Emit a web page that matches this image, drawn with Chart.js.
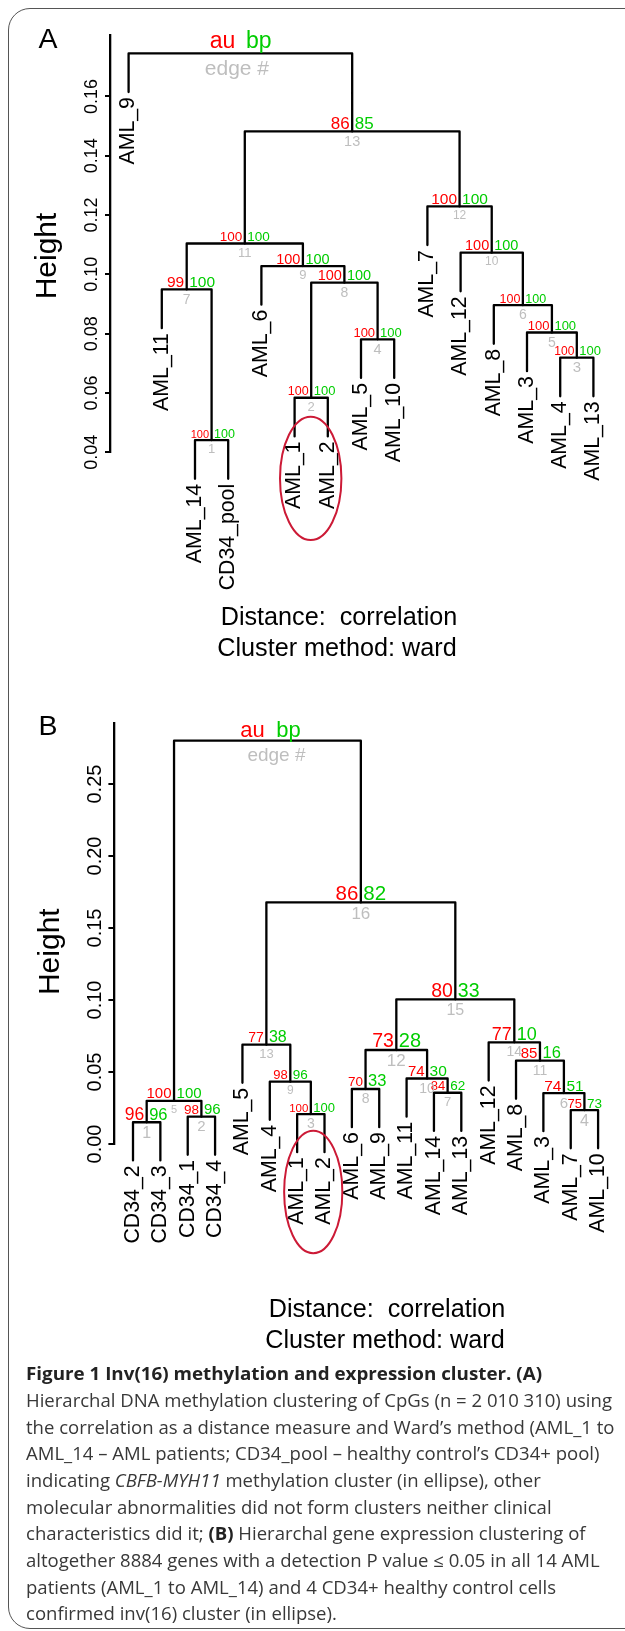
<!DOCTYPE html>
<html>
<head>
<meta charset="utf-8">
<script src="https://cdn.jsdelivr.net/npm/chart.js@4/dist/chart.umd.min.js"></script>
<style>
    html, body { margin: 0; padding: 0; background: #fff; }
    body { width: 625px; height: 1631px; position: relative; overflow: hidden; font-family: "Liberation Sans", Arial, sans-serif; }
    #frame { position: absolute; left: 8px; top: 8px; width: 720px; height: 1621px; border: 1.5px solid #555; border-radius: 22px; box-sizing: border-box; }
    canvas { position: absolute; left: 0; }
    #cA { top: 0; }
    #cB { top: 660px; }
    #caption { position: absolute; left: 26px; top: 1360.4px; font-family: "Open Sans", sans-serif; font-size: 17.5px; line-height: 26.67px; color: #383838; }
    #caption div { white-space: nowrap; transform-origin: 0 0; width: max-content; }
    #caption b { color: #222; }
</style>
</head>
<body>
<div id="frame"></div>
<canvas id="cA" width="625" height="670"></canvas>
<canvas id="cB" width="625" height="700"></canvas>
<div id="caption">
    <div class="ttl"><b>Figure 1 Inv(16) methylation and expression cluster. (A)</b></div>
    <div>Hierarchal DNA methylation clustering of CpGs (n = 2 010 310) using</div>
    <div>the correlation as a distance measure and Ward’s method (AML_1 to</div>
    <div>AML_14 – AML patients; CD34_pool – healthy control’s CD34+ pool)</div>
    <div>indicating <i>CBFB-MYH11</i> methylation cluster (in ellipse), other</div>
    <div>molecular abnormalities did not form clusters neither clinical</div>
    <div>characteristics did it; <b>(B)</b> Hierarchal gene expression clustering of</div>
    <div>altogether 8884 genes with a detection P value ≤ 0.05 in all 14 AML</div>
    <div>patients (AML_1 to AML_14) and 4 CD34+ healthy control cells</div>
    <div>confirmed inv(16) cluster (in ellipse).</div>
</div>
<script>
/* ---- Panel A: DNA methylation clustering ---- */
const leavesA = ['AML_9', 'AML_11', 'AML_14', 'CD34_pool', 'AML_6', 'AML_1', 'AML_2', 'AML_5', 'AML_10',
    'AML_7', 'AML_12', 'AML_8', 'AML_3', 'AML_4', 'AML_13'];
// children: leaf name or number of an earlier merge (1-based)
const mergesA = [
    ['AML_14', 'CD34_pool'], ['AML_1', 'AML_2'], ['AML_4', 'AML_13'], ['AML_5', 'AML_10'],
    ['AML_3', 3], ['AML_8', 5], ['AML_11', 1], [2, 4], ['AML_6', 8], ['AML_12', 6],
    [7, 9], ['AML_7', 10], [11, 12], ['AML_9', 13]
];
const heightsA = [0.0441, 0.0584, 0.0719, 0.0781, 0.0804, 0.0896, 0.0949, 0.0972, 0.1028, 0.1073, 0.1104, 0.1229, 0.1482, 0.1745];
const auA = [100, 100, 100, 100, 100, 100, 99, 100, 100, 100, 100, 100, 86, null];
const bpA = [100, 100, 100, 100, 100, 100, 100, 100, 100, 100, 100, 100, 85, null];
const ticksA = [0.04, 0.06, 0.08, 0.10, 0.12, 0.14, 0.16];

/* ---- Panel B: gene expression clustering ---- */
const leavesB = ['CD34_2', 'CD34_3', 'CD34_1', 'CD34_4', 'AML_5', 'AML_4', 'AML_1', 'AML_2', 'AML_6', 'AML_9',
    'AML_11', 'AML_14', 'AML_13', 'AML_12', 'AML_8', 'AML_3', 'AML_7', 'AML_10'];
const mergesB = [
    ['CD34_2', 'CD34_3'], ['CD34_1', 'CD34_4'], ['AML_1', 'AML_2'], ['AML_7', 'AML_10'], [1, 2],
    ['AML_3', 4], ['AML_14', 'AML_13'], ['AML_6', 'AML_9'], ['AML_4', 3], ['AML_11', 7],
    ['AML_8', 6], [8, 10], ['AML_5', 9], ['AML_12', 11], [12, 14], [13, 15], [5, 16]
];
const heightsB = [0.0151, 0.0190, 0.0208, 0.0235, 0.0300, 0.0354, 0.0356, 0.0382, 0.0433, 0.0455,
    0.0579, 0.0653, 0.0690, 0.0706, 0.1005, 0.1678, 0.2801];
const auB = [96, 98, 100, 75, 100, 74, 84, 70, 98, 74, 85, 73, 77, 77, 80, 86, null];
const bpB = [96, 96, 100, 73, 100, 51, 62, 33, 96, 30, 16, 28, 38, 10, 33, 82, null];
const ticksB = [0.00, 0.05, 0.10, 0.15, 0.20, 0.25];

// font sizes [au, bp, edge] for each merge (styling only)
const sizeA = [[11, 12.5, 13], [12.5, 13, 13], [12, 13, 15], [13, 13, 14.5], [13, 13, 14], [12.5, 12.5, 14],
    [15.5, 15.5, 14], [14.5, 14.5, 14], [14.5, 14.5, 13], [14.5, 14.5, 12], [13.5, 13.5, 13], [15.5, 15.5, 12],
    [17, 17, 14.5], [23, 23, 21]];
const sizeB = [[17.5, 16.5, 16], [13.5, 15, 15], [11.5, 13, 14], [13, 13.5, 16], [15, 15, 11], [15.5, 15.5, 15],
    [13, 13.5, 13], [13.5, 16.5, 14], [13, 13.5, 12], [15, 15.5, 14], [15, 16.5, 14], [19.5, 20, 17],
    [14, 16, 13], [18, 18, 14], [19.5, 19.5, 16], [20.5, 20.5, 17], [22, 22, 19]];

const FONT = '"Liberation Sans", Arial, sans-serif';
const RED = '#ff0000', GREEN = '#00cd00', GRAY = '#bebebe', RING = '#cc1a36';

// R plot.hclust style layout: leaves at 1..n, merge drawn at the middle of its children
function buildTree(leaves, merges, heights) {
    const hang = 0.1 * (Math.max(...heights) - Math.min(...heights));
    const pos = [];
    const segs = [];
    const leafEnd = {};
    const child = (c, h) => {
        if (typeof c === 'string') {
            leafEnd[c] = h - hang;
            return { x: leaves.indexOf(c) + 1, y: h - hang };
        }
        return { x: pos[c - 1], y: heights[c - 1] };
    };
    merges.forEach((m, i) => {
        const h = heights[i];
        const a = child(m[0], h), b = child(m[1], h);
        pos[i] = (a.x + b.x) / 2;
        segs.push([{ x: a.x, y: a.y }, { x: a.x, y: h }, { x: b.x, y: h }, { x: b.x, y: b.y }]);
    });
    return { pos, segs, leafEnd };
}

const dendroPlugin = {
    id: 'dendro',
    afterDatasetsDraw(chart) {
        const cfg = chart.options.plugins.dendro;
        const { ctx, scales: { x, y } } = chart;
        const t = cfg.tree;
        ctx.save();

        // au / bp / edge numbers
        t.pos.forEach((xv, i) => {
            const X = x.getPixelForValue(xv), Y = y.getPixelForValue(cfg.heights[i]);
            const s = cfg.sizes[i];
            ctx.textBaseline = 'alphabetic';
            if (cfg.au[i] == null) {
                const r = cfg.root;
                ctx.font = `${s[0]}px ${FONT}`;
                ctx.fillStyle = RED; ctx.textAlign = 'right';
                ctx.fillText('au', X + r.au, Y - r.up);
                ctx.fillStyle = GREEN; ctx.textAlign = 'left';
                ctx.fillText('bp', X + r.bp, Y - r.up);
                ctx.font = `${s[2]}px ${FONT}`;
                ctx.fillStyle = GRAY; ctx.textAlign = 'center';
                ctx.fillText('edge #', X + r.edge, Y + r.down + 0.72 * s[2]);
                return;
            }
            ctx.font = `${s[0]}px ${FONT}`;
            ctx.fillStyle = RED; ctx.textAlign = 'right';
            ctx.fillText(String(cfg.au[i]), X - 2.5, Y - 2.5);
            ctx.font = `${s[1]}px ${FONT}`;
            ctx.fillStyle = GREEN; ctx.textAlign = 'left';
            ctx.fillText(String(cfg.bp[i]), X + 2.5, Y - 2.5);
            ctx.font = `${s[2]}px ${FONT}`;
            ctx.fillStyle = GRAY; ctx.textAlign = 'center';
            ctx.fillText(String(i + 1), X, Y + 4 + 0.72 * s[2]);
        });

        // leaf labels, rotated, hanging under each leaf
        ctx.fillStyle = '#000';
        ctx.font = `21.3px ${FONT}`;
        cfg.leaves.forEach((name, i) => {
            const X = x.getPixelForValue(i + 1), Y = y.getPixelForValue(t.leafEnd[name]);
            ctx.save();
            ctx.translate(X, Y + 5);
            ctx.rotate(-Math.PI / 2);
            ctx.textAlign = 'right';
            ctx.textBaseline = 'middle';
            ctx.fillText(name, 0, 0);
            ctx.restore();
        });

        // ellipse round the AML_1 / AML_2 pair
        const e = cfg.ellipse;
        const ex = (x.getPixelForValue(cfg.leaves.indexOf(e.pair[0]) + 1) + x.getPixelForValue(cfg.leaves.indexOf(e.pair[1]) + 1)) / 2 + e.dx;
        ctx.strokeStyle = RING;
        ctx.lineWidth = 2;
        ctx.beginPath();
        ctx.ellipse(ex, y.getPixelForValue(e.h), e.rx, e.ry, 0, 0, Math.PI * 2);
        ctx.stroke();

        // panel letter, axis title, distance notes
        ctx.fillStyle = '#000';
        ctx.textBaseline = 'alphabetic';
        ctx.textAlign = 'left';
        ctx.font = `28.5px ${FONT}`;
        ctx.fillText(cfg.letter, 38.5, cfg.letterY);

        ctx.save();
        ctx.translate(cfg.titleX, cfg.titleY);
        ctx.rotate(-Math.PI / 2);
        ctx.textAlign = 'center';
        ctx.font = `30px ${FONT}`;
        ctx.fillText('Height', 0, 0);
        ctx.restore();

        ctx.textAlign = 'center';
        ctx.font = `25.2px ${FONT}`;
        ctx.fillText('Distance:  correlation', cfg.note[0], cfg.note[1]);
        ctx.fillText('Cluster method: ward', cfg.note[2], cfg.note[3]);
        ctx.restore();
    }
};

function makeDendrogram(canvasId, d, look) {
    const tree = buildTree(d.leaves, d.merges, d.heights);
    const n = d.leaves.length;
    return new Chart(document.getElementById(canvasId), {
        type: 'scatter',
        data: {
            datasets: tree.segs.map(seg => ({
                data: seg, showLine: true, borderColor: '#000', borderWidth: 2.3,
                borderCapStyle: 'round', borderJoinStyle: 'round',
                pointRadius: 0, pointHoverRadius: 0, clip: false, tension: 0
            }))
        },
        options: {
            responsive: false, animation: false, devicePixelRatio: 1, events: [],
            layout: { padding: { top: look.top, bottom: look.bottom, left: 0, right: look.right } },
            plugins: {
                legend: { display: false }, tooltip: { enabled: false },
                dendro: Object.assign({ tree }, d, look)
            },
            scales: {
                x: { type: 'linear', display: false, min: 1 - 0.04 * (n - 1), max: n + 0.04 * (n - 1) },
                y: {
                    type: 'linear', min: look.ymin, max: look.ymax,
                    afterBuildTicks: s => { s.ticks = d.ticks.map(v => ({ value: v })); },
                    afterFit: s => { s.width = look.axisX; },
                    grid: { display: true, drawOnChartArea: false, drawTicks: true, tickLength: look.tickLen, color: '#000', lineWidth: 2 },
                    border: { display: true, color: '#000', width: 2.3 },
                    ticks: {
                        minRotation: 90, maxRotation: 90, crossAlign: 'center', padding: look.tickPad,
                        autoSkip: false, color: '#000', font: { family: FONT, size: look.tickFont },
                        callback: v => v.toFixed(2)
                    }
                }
            }
        },
        plugins: [dendroPlugin]
    });
}

makeDendrogram('cA',
    { leaves: leavesA, merges: mergesA, heights: heightsA, au: auA, bp: bpA, ticks: ticksA },
    {
        sizes: sizeA, top: 35, bottom: 217.7, right: 13, axisX: 110, ymin: 0.04, ymax: 0.1807,
        tickLen: 5, tickPad: -5, tickFont: 18,
        root: { au: -5, bp: 5.5, edge: -3.5, up: 5, down: 6 },
        ellipse: { pair: ['AML_1', 'AML_2'], dx: -0.5, h: 0.0312, rx: 30.7, ry: 61.7 },
        letter: 'A', letterY: 48.3, titleX: 56, titleY: 256,
        note: [339, 625, 337, 656]
    });

makeDendrogram('cB',
    { leaves: leavesB, merges: mergesB, heights: heightsB, au: auB, bp: bpB, ticks: ticksB },
    {
        sizes: sizeB, top: 62.7, bottom: 216, right: 8.3, axisX: 114.4, ymin: 0, ymax: 0.2926,
        tickLen: 6, tickPad: -6.5, tickFont: 20,
        root: { au: -2.7, bp: 8.9, edge: 9, up: 3.4, down: 6.6 },
        ellipse: { pair: ['AML_1', 'AML_2'], dx: 2.4, h: -0.0333, rx: 29.1, ry: 61.3 },
        letter: 'B', letterY: 75, titleX: 58.5, titleY: 291.7,
        note: [387, 657.3, 385, 688.3]
    });

// squeeze caption lines to the printed widths
document.fonts.ready.then(() => {
    const lines = Array.from(document.querySelectorAll('#caption div'));
    const body = 586 / lines[1].getBoundingClientRect().width;
    lines.forEach((el, i) => {
        const k = i === 0 ? 516 / el.getBoundingClientRect().width : body;
        el.style.transform = `scaleX(${k})`;
    });
});
</script>
</body>
</html>
